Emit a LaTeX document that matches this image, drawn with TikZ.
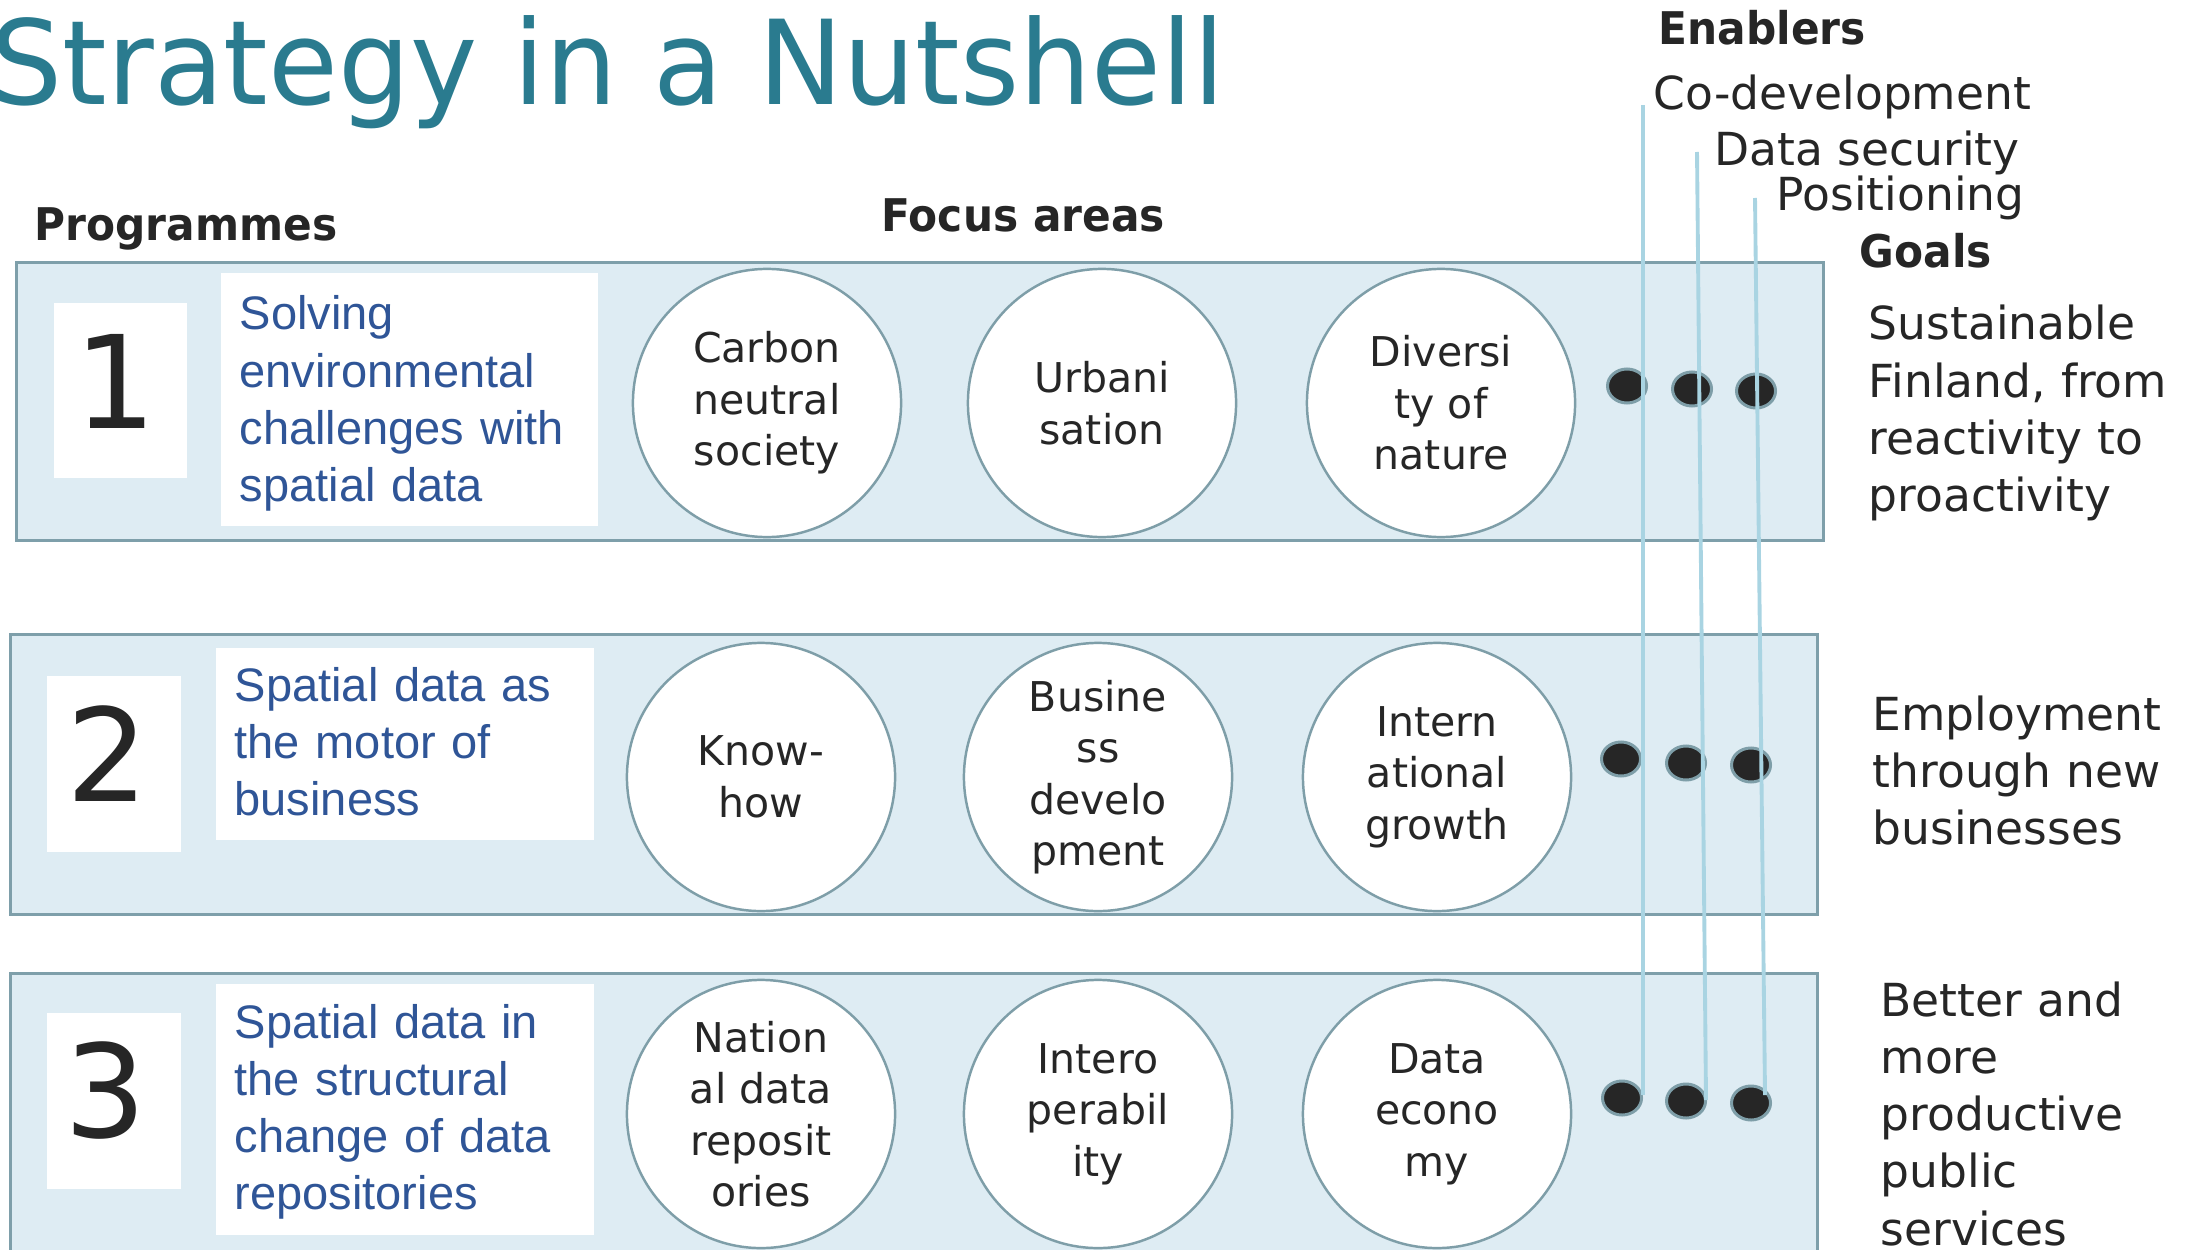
\documentclass[tikz,border=0pt]{standalone}
\usepackage{fontspec}
\setmainfont{DejaVu Sans}
\newfontfamily\bluefont{Liberation Sans}
\newfontfamily\hdfont[FakeStretch=0.94]{DejaVu Sans}
\newfontfamily\ttlfont[FakeStretch=0.97]{DejaVu Sans}
\usetikzlibrary{shapes.geometric}
\definecolor{titleteal}{HTML}{2A7B8F}
\definecolor{ink}{HTML}{262626}
\definecolor{progblue}{HTML}{2F5597}
\definecolor{panelfill}{HTML}{DEECF3}
\definecolor{panelline}{HTML}{7E9FAA}
\definecolor{circline}{HTML}{7E9EA8}
\definecolor{enabline}{HTML}{A9D4E2}
\begin{document}
\begin{tikzpicture}[x=0.01cm,y=-0.01cm,
  panel/.style={rectangle,draw=panelline,fill=panelfill,line width=0.85pt,inner sep=0,minimum width=18.06cm},
  numbox/.style={rectangle,fill=white,inner sep=0,minimum width=1.33cm,minimum height=1.75cm},
  progbox/.style={rectangle,fill=white,inner sep=0,minimum width=3.77cm},
  numtxt/.style={anchor=base,inner sep=0,text=ink,font=\fontsize{36.7pt}{44pt}\selectfont},
  progtxt/.style={anchor=base west,inner sep=0,text=progblue,text width=3.6cm,align=left,font=\bluefont\fontsize{13.37pt}{16.3pt}\selectfont},
  focus/.style={circle,draw=circline,line width=0.7pt,fill=white,minimum size=2.68cm,inner sep=0,align=center,text=ink,font=\fontsize{11.67pt}{14.65pt}\selectfont},
  dot/.style={ellipse,draw=circline,fill=ink,line width=0.85pt,minimum width=0.39cm,minimum height=0.34cm,inner sep=0},
  enabler/.style={draw=enabline,line width=1.1pt},
  header/.style={anchor=base west,inner sep=0,text=ink,font=\hdfont\bfseries\fontsize{12.8pt}{15pt}\selectfont},
  bodytxt/.style={anchor=base west,inner sep=0,text=ink,font=\fontsize{12.95pt}{16.3pt}\selectfont},
  goaltxt/.style={bodytxt,text width=3.3cm,align=left}
]
\useasboundingbox (0,0) rectangle (2204,1249);
\clip (0,0) rectangle (2204,1249);

% title and headers
\node[anchor=base west,inner sep=0,text=titleteal,font=\ttlfont\fontsize{33.3pt}{40pt}\selectfont] (title) at (-10,105) {Strategy in a Nutshell};
\node[header] (hprog) at (34,241) {Programmes};
\node[header] (hfocus) at (881,232) {Focus areas};
\node[header] (henab) at (1658,45) {Enablers};
\node[header] (hgoal) at (1859,268) {Goals};
\node[bodytxt] (en1) at (1653,110) {Co-development};
\node[bodytxt] (en2) at (1714,166) {Data security};
\node[bodytxt] (en3) at (1776,211) {Positioning};

% panels
\node[panel,minimum height=2.77cm] (p1) at (920,401.5) {};
\node[panel,minimum height=2.79cm] (p2) at (914,774.5) {};
\node[panel,minimum height=2.82cm] (p3) at (914,1115) {};

% number boxes
\node[numbox] (b1) at (120.5,390.5) {};
\node[numbox] (b2) at (114,764) {};
\node[numbox] (b3) at (114,1101) {};
\node[numtxt] (n1) at (116,428) {1};
\node[numtxt] (n2) at (107.5,801) {2};
\node[numtxt] (n3) at (105.5,1137) {3};

% programme boxes
\node[progbox,minimum height=2.53cm] (t1) at (409.5,399.5) {};
\node[progbox,minimum height=1.92cm] (t2) at (405,744) {};
\node[progbox,minimum height=2.51cm] (t3) at (405,1109.5) {};
\node[progtxt] (pt1) at (239,330) {Solving\\environmental\\challenges with\\spatial data};
\node[progtxt] (pt2) at (234,701) {Spatial data as\\the motor of\\business};
\node[progtxt] (pt3) at (234,1038) {Spatial data in\\the structural\\change of data\\repositories};

% focus areas
\node[focus] (c11) at (767,403) {Carbon\\neutral\\society};
\node[focus] (c12) at (1102,403) {Urbani\\sation};
\node[focus] (c13) at (1441,403) {Diversi\\ty of\\nature};
\node[focus] (c21) at (761,777) {Know-\\how};
\node[focus] (c22) at (1098,777) {Busine\\ss\\develo\\pment};
\node[focus] (c23) at (1437,777) {Intern\\ational\\growth};
\node[focus] (c31) at (761,1114) {Nation\\al data\\reposit\\ories};
\node[focus] (c32) at (1098,1114) {Intero\\perabil\\ity};
\node[focus] (c33) at (1437,1114) {Data\\econo\\my};

% dots
\node[dot] (d11) at (1627,386) {};
\node[dot] (d12) at (1692,389) {};
\node[dot] (d13) at (1756,391) {};
\node[dot] (d21) at (1621,759) {};
\node[dot] (d22) at (1686,763) {};
\node[dot] (d23) at (1751,765) {};
\node[dot] (d31) at (1622,1098) {};
\node[dot] (d32) at (1686,1101) {};
\node[dot] (d33) at (1751,1103) {};

% enabler lines
\coordinate (e1a) at (1643,105);
\coordinate (e1b) at (1643,1095);
\coordinate (e2a) at (1697,152);
\coordinate (e2b) at (1706,1100);
\coordinate (e3a) at (1755,198);
\coordinate (e3b) at (1765,1095);
\draw[enabler] (e1a) -- (e1b);
\draw[enabler] (e2a) -- (e2b);
\draw[enabler] (e3a) -- (e3b);

% goals
\node[goaltxt] (g1) at (1868,340) {Sustainable\\Finland, from\\reactivity to\\proactivity};
\node[goaltxt] (g2) at (1872,730) {Employment\\through new\\businesses};
\node[goaltxt] (g3) at (1880,1016) {Better and\\more\\productive\\public\\services};
\end{tikzpicture}
\end{document}
